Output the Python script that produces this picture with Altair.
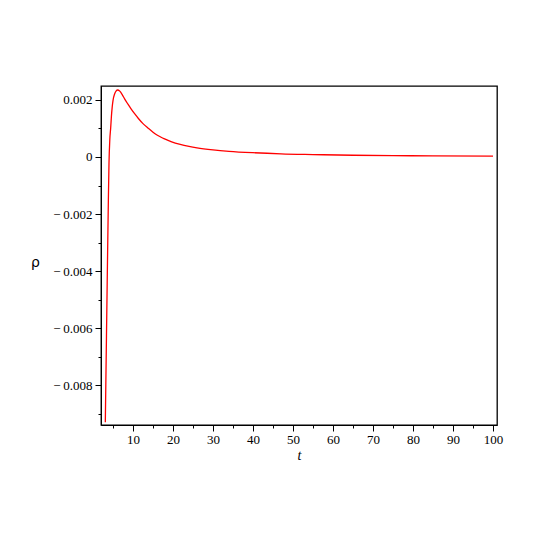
import altair as alt
import pandas as pd

t_vals = [3.08, 3.3, 3.55, 3.8, 4.0, 4.2, 4.43, 4.6, 4.8, 5.0, 5.4, 5.8, 6.1, 6.7,
          7.3, 7.9, 8.7, 9.6, 10.5, 11.3, 12.5, 13.8, 15, 16.1, 17.6, 19.5, 21.8,
          24, 26, 30, 34, 40, 47, 55, 65, 75, 85, 100]
rho_vals = [-0.0093, -0.0070, -0.0044, -0.0019, -0.0002, 0.0006, 0.00104, 0.00142,
            0.00175, 0.00198, 0.00221, 0.00232, 0.00235, 0.00231, 0.00219, 0.00204,
            0.00186, 0.00167, 0.00150, 0.00136, 0.00117, 0.00101, 0.00087, 0.00076,
            0.00065, 0.00054, 0.00044, 0.00037, 0.00032, 0.00025, 0.00020, 0.00015,
            0.00011, 0.000086, 0.000062, 0.000049, 0.000039, 0.00003]

x_ticks = list(range(5, 101, 5))
y_ticks = [-0.009, -0.008, -0.007, -0.006, -0.005, -0.004, -0.003, -0.002, -0.001,
           0.0, 0.001, 0.002]

df = pd.DataFrame({"t": t_vals, "rho": rho_vals})

x_axis = alt.Axis(
    values=x_ticks,
    title="t",
    titleFont="Liberation Serif",
    titleFontStyle="italic",
    titleFontWeight="normal",
    titleFontSize=14,
    titleAngle=0,
    titleX=198,
    titleY=30,
    titleBaseline="middle",
    labelExpr="datum.value % 10 === 0 ? datum.value + '' : ''",
    labelFont="Liberation Serif",
    labelFontSize=13,
    labelColor="black",
    labelPadding=2,
    tickSize={"condition": {"test": "datum.value % 10 === 0", "value": 6}, "value": 3},
    tickColor="black",
    domainColor="black",
    grid=False,
)

y_axis = alt.Axis(
    values=y_ticks,
    title="ρ",
    titleFont="DejaVu Sans",
    titleFontWeight="normal",
    titleFontSize=14,
    titleAngle=0,
    titleX=-66,
    titleY=176,
    titleBaseline="middle",
    titleAlign="center",
    labelExpr=("abs(round(datum.value*1000)) % 2 !== 0 ? '' : "
               "(round(datum.value*1000) === 0 ? '0' : "
               "(datum.value < 0 ? '\u2212\u2009' + format(-datum.value, '.3f') : format(datum.value, '.3f')))"),
    labelFont="Liberation Serif",
    labelFontSize=13,
    labelColor="black",
    labelPadding=3,
    tickSize={"condition": {"test": "abs(round(datum.value*1000)) % 2 === 0", "value": 6}, "value": 3},
    tickColor="black",
    domainColor="black",
    grid=False,
)

chart = alt.Chart(df).mark_line(color="#ff0000", strokeWidth=1.3, interpolate="monotone").encode(
    x=alt.X("t:Q", scale=alt.Scale(domain=[2, 101], nice=False, zero=False), axis=x_axis),
    y=alt.Y("rho:Q", scale=alt.Scale(domain=[-0.0094, 0.00249], nice=False, zero=False), axis=y_axis),
).properties(
    width=396,
    height=339,
    background="white",
    autosize=alt.AutoSizeParams(type="none"),
    padding={"left": 93, "top": 78, "right": 40, "bottom": 112},
).configure_view(
    stroke="#000000",
    strokeWidth=1.3,
    strokeOpacity=1,
)

chart.save("out.html", embed_options={"renderer": "svg", "actions": False})
